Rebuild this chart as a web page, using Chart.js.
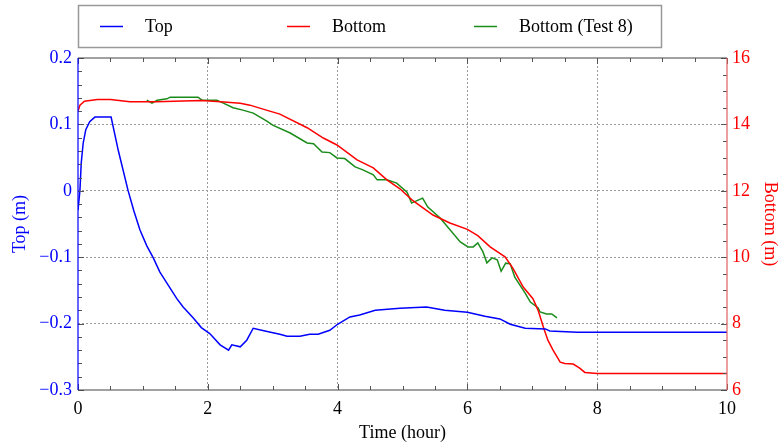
<!DOCTYPE html>
<html lang="en">
<head>
    <meta charset="UTF-8">
    <title>Top / Bottom vs Time</title>
    <script src="https://cdn.jsdelivr.net/npm/chart.js"></script>
    <style>
        body { margin: 0; background: #fff; }
        .chart-container { width: 781px; height: 447px; }
    </style>
</head>
<body>
    <div class="chart-container"><canvas id="chart" width="781" height="447"></canvas></div>
    <script>
        // Top (m), left axis
        const topTime = [0, 0.03, 0.05, 0.08, 0.12, 0.18, 0.26, 0.51, 0.62, 0.77, 0.86, 0.955, 1.06, 1.16, 1.26, 1.37,
            1.52, 1.62, 1.78, 1.9, 2.03, 2.19, 2.32, 2.37, 2.5, 2.6, 2.7, 2.88, 3.11, 3.22, 3.42, 3.57, 3.7, 3.88,
            4.0, 4.19, 4.34, 4.58, 4.96, 5.37, 5.65, 6.0, 6.27, 6.5, 6.66, 6.89, 7.2, 7.27, 7.69, 10];
        const topValue = [-0.029, 0.001, 0.042, 0.072, 0.092, 0.104, 0.111, 0.111, 0.061, 0.001, -0.03, -0.059,
            -0.083, -0.101, -0.122, -0.139, -0.162, -0.175, -0.192, -0.206, -0.215, -0.232, -0.24, -0.232, -0.235,
            -0.225, -0.207, -0.211, -0.216, -0.219, -0.219, -0.216, -0.216, -0.21, -0.201, -0.19, -0.187, -0.18,
            -0.177, -0.175, -0.18, -0.183, -0.189, -0.193, -0.201, -0.207, -0.208, -0.211, -0.213, -0.213];

        // Bottom (m), right axis
        const bottomTime = [0, 0.03, 0.1, 0.3, 0.5, 0.8, 1.2, 1.9, 2.2, 2.5, 2.65, 2.8, 3.11, 3.53, 3.78, 3.99, 4.3,
            4.55, 4.76, 4.96, 5.15, 5.47, 5.73, 6.0, 6.16, 6.35, 6.58, 6.7, 6.86, 7.01, 7.09, 7.17, 7.24, 7.32, 7.43,
            7.5, 7.63, 7.73, 7.81, 8.0, 10];
        const bottomValue = [14.4, 14.58, 14.7, 14.75, 14.75, 14.68, 14.68, 14.72, 14.68, 14.64, 14.58, 14.49, 14.31,
            13.9, 13.59, 13.38, 12.93, 12.69, 12.33, 12.06, 11.72, 11.27, 11.03, 10.84, 10.65, 10.31, 10.01, 9.67,
            9.1, 8.75, 8.4, 7.9, 7.5, 7.2, 6.84, 6.8, 6.78, 6.66, 6.53, 6.5, 6.5];

        // Bottom (Test 8), right axis
        const testTime = [1.06, 1.14, 1.22, 1.37, 1.42, 1.85, 1.91, 2.14, 2.24, 2.39, 2.54, 2.7, 2.91, 3.0, 3.27,
            3.53, 3.63, 3.76, 3.88, 3.99, 4.11, 4.27, 4.39, 4.55, 4.61, 4.76, 4.91, 5.07, 5.14, 5.24, 5.31, 5.39,
            5.58, 5.89, 6.01, 6.09, 6.16, 6.24, 6.3, 6.38, 6.46, 6.52, 6.59, 6.66, 6.73, 6.89, 6.97, 7.09, 7.12,
            7.22, 7.3, 7.38];
        const testValue = [14.73, 14.64, 14.73, 14.77, 14.82, 14.82, 14.73, 14.73, 14.64, 14.5, 14.43, 14.34, 14.1,
            13.98, 13.74, 13.44, 13.42, 13.17, 13.15, 12.99, 12.97, 12.72, 12.63, 12.48, 12.33, 12.33, 12.23,
            11.96, 11.63, 11.72, 11.78, 11.51, 11.18, 10.46, 10.31, 10.31, 10.43, 10.16, 9.83, 9.98, 9.92, 9.58,
            9.82, 9.8, 9.4, 8.92, 8.65, 8.47, 8.35, 8.29, 8.29, 8.17];

        const seriesLabels = ['Top', 'Bottom', 'Bottom (Test 8)'];
        const seriesColors = ['#0000ff', '#ff0000', '#1a8c1a'];

        const FONT = 'Liberation Serif, Times New Roman, serif';

        const toPoints = (xs, ys) => xs.map((x, i) => ({ x: x, y: ys[i] }));

        function fmtTop(v) {
            const r = Math.round(v * 10) / 10;
            if (r === 0) return '0';
            return (r < 0 ? '\u2212' : '') + Math.abs(r).toFixed(1);
        }

        // frame, inward ticks and the boxed legend
        const framePlugin = {
            id: 'frame',
            afterDatasetsDraw(chart) {
                const { ctx, chartArea: a, scales } = chart;
                const sx = scales.x, sy = scales.y, sy1 = scales.y1;
                ctx.save();
                ctx.lineWidth = 1;
                ctx.strokeStyle = '#555';

                function tick(x1, y1, x2, y2) {
                    ctx.beginPath();
                    ctx.moveTo(x1, y1);
                    ctx.lineTo(x2, y2);
                    ctx.stroke();
                }

                // x ticks, bottom and top
                for (let k = 0; k <= 20; k++) {
                    const v = k * 0.5;
                    const px = Math.round(sx.getPixelForValue(v)) + 0.5;
                    const len = (k % 4 === 0) ? 6 : 4;
                    tick(px, a.bottom, px, a.bottom - len);
                    tick(px, a.top, px, a.top + len);
                }
                // left ticks
                for (let k = 0; k <= 25; k++) {
                    const v = -0.3 + k * 0.02;
                    const py = Math.round(sy.getPixelForValue(v)) + 0.5;
                    const len = (k % 5 === 0) ? 6 : 4;
                    tick(a.left, py, a.left + len, py);
                }
                // right ticks
                for (let k = 0; k <= 20; k++) {
                    const v = 6 + k * 0.5;
                    const py = Math.round(sy1.getPixelForValue(v)) + 0.5;
                    const len = (k % 4 === 0) ? 6 : 4;
                    tick(a.right, py, a.right - len, py);
                }

                // frame edges
                ctx.lineWidth = 1.2;
                ctx.strokeStyle = '#444';
                tick(a.left, a.top, a.right, a.top);
                tick(a.left, a.bottom, a.right, a.bottom);
                ctx.strokeStyle = seriesColors[0];
                tick(a.left, a.top, a.left, a.bottom);
                ctx.strokeStyle = '#e06060';
                tick(a.right, a.top, a.right, a.bottom);

                // legend box
                ctx.strokeStyle = '#999';
                ctx.lineWidth = 1.5;
                ctx.strokeRect(78.5, 5.5, 583, 42);
                const itemX = [100, 287, 474];
                ctx.font = '18px ' + FONT;
                ctx.textBaseline = 'middle';
                ctx.fillStyle = '#000';
                seriesLabels.forEach((label, i) => {
                    ctx.strokeStyle = seriesColors[i];
                    ctx.lineWidth = 1.5;
                    tick(itemX[i], 26.5, itemX[i] + 23, 26.5);
                    ctx.fillText(label, itemX[i] + 45, 27);
                });
                ctx.restore();
            }
        };

        const hideEdges = (min, max) => c => {
            const v = c.tick ? c.tick.value : null;
            if (v === null || Math.abs(v - min) < 1e-6 || Math.abs(v - max) < 1e-6) return 'rgba(0,0,0,0)';
            return '#9a9a9a';
        };

        new Chart(document.getElementById('chart').getContext('2d'), {
            type: 'line',
            data: {
                datasets: [
                    {
                        label: seriesLabels[0],
                        data: toPoints(topTime, topValue),
                        borderColor: seriesColors[0],
                        yAxisID: 'y'
                    },
                    {
                        label: seriesLabels[1],
                        data: toPoints(bottomTime, bottomValue),
                        borderColor: seriesColors[1],
                        yAxisID: 'y1'
                    },
                    {
                        label: seriesLabels[2],
                        data: toPoints(testTime, testValue),
                        borderColor: seriesColors[2],
                        yAxisID: 'y1'
                    }
                ]
            },
            options: {
                responsive: false,
                animation: false,
                maintainAspectRatio: false,
                layout: { padding: { top: 58, left: 0, right: 0, bottom: 0 } },
                elements: {
                    point: { radius: 0 },
                    line: { borderWidth: 1.5, tension: 0 }
                },
                plugins: {
                    legend: { display: false },
                    tooltip: { enabled: false }
                },
                scales: {
                    x: {
                        type: 'linear',
                        min: 0,
                        max: 10,
                        afterFit: s => { s.height = 57; },
                        ticks: {
                            stepSize: 2,
                            color: '#000',
                            padding: 8,
                            maxRotation: 0,
                            font: { family: FONT, size: 18 }
                        },
                        grid: { color: hideEdges(0, 10), drawTicks: false },
                        border: { display: false, dash: [2, 2] },
                        title: {
                            display: true,
                            text: 'Time (hour)',
                            color: '#000',
                            font: { family: FONT, size: 18 },
                            padding: { top: 0, bottom: 3 }
                        }
                    },
                    y: {
                        type: 'linear',
                        position: 'left',
                        min: -0.3,
                        max: 0.2,
                        afterFit: s => { s.width = 78; },
                        ticks: {
                            stepSize: 0.1,
                            color: seriesColors[0],
                            padding: 6,
                            font: { family: FONT, size: 18 },
                            callback: v => fmtTop(v)
                        },
                        grid: { color: hideEdges(-0.3, 0.2), drawTicks: false },
                        border: { display: false, dash: [2, 2] },
                        title: {
                            display: true,
                            text: 'Top (m)',
                            color: seriesColors[0],
                            font: { family: FONT, size: 18 },
                            padding: { top: 9, bottom: 0 }
                        }
                    },
                    y1: {
                        type: 'linear',
                        position: 'right',
                        min: 6,
                        max: 16,
                        afterFit: s => { s.width = 54; },
                        ticks: {
                            stepSize: 2,
                            color: seriesColors[1],
                            padding: 5,
                            font: { family: FONT, size: 18 }
                        },
                        grid: { drawOnChartArea: false, drawTicks: false },
                        border: { display: false },
                        title: {
                            display: true,
                            text: 'Bottom (m)',
                            color: seriesColors[1],
                            font: { family: FONT, size: 18 },
                            padding: { top: 0, bottom: 0 }
                        }
                    }
                }
            },
            plugins: [framePlugin]
        });
    </script>
</body>
</html>
